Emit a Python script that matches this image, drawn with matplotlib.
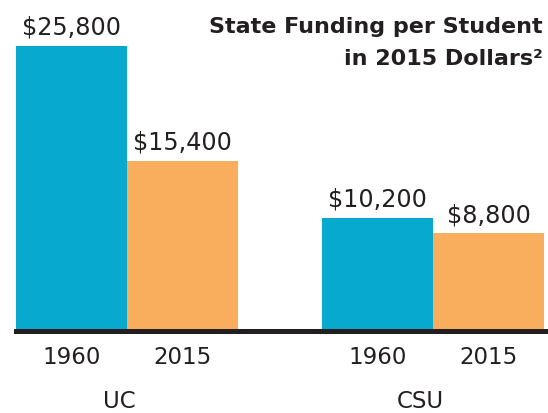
import matplotlib
matplotlib.use("Agg")
import matplotlib.pyplot as plt

# ------------------------------------------------------------------ data
systems = ["UC", "CSU"]
years = ["1960", "2015"]
funding_1960 = [25800, 10200]
funding_2015 = [15400, 8800]
labels_1960 = ["$25,800", "$10,200"]
labels_2015 = ["$15,400", "$8,800"]

BLUE = "#08a9cf"
ORANGE = "#f9ae5e"
INK = "#231f20"
W, H = 548, 413

plt.rcParams["font.family"] = ["DejaVu Sans"]

fig = plt.figure(figsize=(W / 100, H / 100), dpi=100)
# axes in pixel layout: bars span x 16..548, baseline centred ~330 from top
AX_H = 330.5
ax = fig.add_axes([16 / W, (H - AX_H) / H, (W - 16) / W, AX_H / H])

px_per_unit = 284.5 / 25800         # bar scale
ax.set_ylim(0, AX_H / px_per_unit)
bar_w = 111
ax.set_xlim(-0.5, -0.5 + (W - 16) / bar_w)

group_x = [0, (377.5 - 71.5) / bar_w]
x60 = [g for g in group_x]
x15 = [g + 1 for g in group_x]

ax.bar(x60, funding_1960, width=1.0, color=BLUE, linewidth=0)
ax.bar(x15, funding_2015, width=1.0, color=ORANGE, linewidth=0)

for xs, vals, labs in [(x60, funding_1960, labels_1960),
                       (x15, funding_2015, labels_2015)]:
    for x, v, lab in zip(xs, vals, labs):
        ax.annotate(lab, (x, v), xytext=(0, 8), textcoords="offset points",
                    ha="center", va="baseline", fontsize=17.2, color=INK)

# years and system names under the baseline
xt = ax.get_xaxis_transform()
for g in group_x:
    for i, yr in enumerate(years):
        ax.text(g + i, -33.5 / AX_H, yr, transform=xt, ha="center",
                va="baseline", fontsize=16.5, color=INK)
sys_x = [(119 - 71.5) / bar_w, (420 - 71.5) / bar_w]
for x, name in zip(sys_x, systems):
    ax.text(x, -77 / AX_H, name, transform=xt, ha="center",
            va="baseline", fontsize=16.5, color=INK)

# title, right aligned top corner
fig.text(543 / W, 1 - 33 / H, "State Funding per Student", ha="right",
         va="baseline", fontsize=16, fontweight="bold", color=INK)
fig.text(543 / W, 1 - 65 / H, "in 2015 Dollars\u00b2", ha="right",
         va="baseline", fontsize=16, fontweight="bold", color=INK)

for s in ["top", "left", "right"]:
    ax.spines[s].set_visible(False)
ax.spines["bottom"].set_linewidth(3.6)
ax.spines["bottom"].set_color(INK)
ax.set_xticks([])
ax.set_yticks([])

fig.savefig("out.png", dpi=100)
